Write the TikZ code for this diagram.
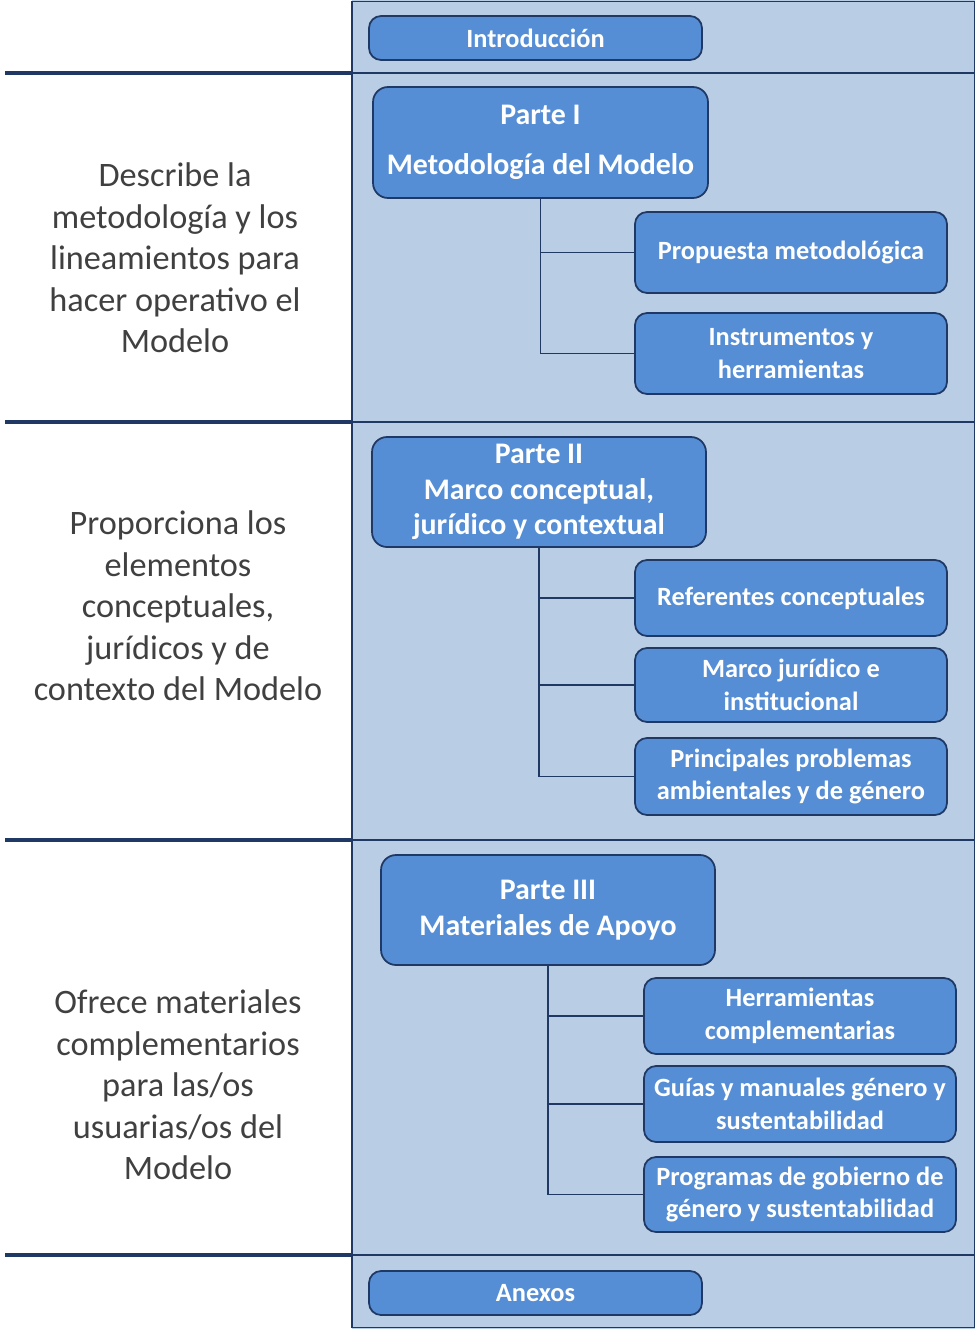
\documentclass[tikz,border=0pt]{standalone}
\usepackage{fontspec}
\setmainfont{Carlito}
\definecolor{panel}{HTML}{B9CDE5}
\definecolor{boxfill}{HTML}{558ED5}
\definecolor{navy}{HTML}{1F3864}
\definecolor{textgray}{HTML}{404040}

\begin{document}
\begin{tikzpicture}[x=0.02cm,y=-0.02cm,
    box/.style={draw=navy,fill=boxfill,line width=1pt,rounded corners=0.24cm,
      text=white,font=\bfseries\fontsize{15}{18.5}\selectfont,align=center,
      inner sep=0pt,minimum width=6.24cm},
    parte/.style={box,font=\bfseries\fontsize{17}{20.2}\selectfont,
      minimum width=6.68cm,minimum height=2.2cm,rounded corners=0.3cm},
    desc/.style={text=textgray,font=\fontsize{19.5}{23.6}\selectfont,align=center},
    link/.style={draw=navy,line width=0.8pt}]
      \useasboundingbox (0,0) rectangle (975,1329);
      % panel on the right
      \fill[panel] (352,0) rectangle (975,1329);
      \draw[navy,line width=0.8pt] (352,1.5) rectangle (974.5,1327.5);
      \foreach \y in {73,422,840,1255} {
        \draw[navy,line width=1.8pt] (5,\y) -- (352,\y);
        \draw[navy,line width=0.8pt] (352,\y) -- (975,\y);
      }
      % left column
      \node[desc] (d1) at (175,258) {Describe la\\metodología y los\\lineamientos para\\hacer operativo el\\Modelo};
      \node[desc] (d2) at (178,606) {Proporciona los\\elementos\\conceptuales,\\jurídicos y de\\contexto del Modelo};
      \node[desc] (d3) at (178,1085) {Ofrece materiales\\complementarios\\para las/os\\usuarias/os del\\Modelo};
      % boxes
      \node[box,minimum width=6.66cm,minimum height=0.88cm] (intro) at (535.5,38) {Introducción};
      \node[parte,minimum width=6.7cm,minimum height=2.22cm] (p1) at (540.5,142.5) {Parte I\\[8pt]Metodología del Modelo};
      \node[box,minimum height=1.62cm] (prop) at (791,252.5) {Propuesta metodológica};
      \node[box,minimum height=1.62cm] (instr) at (791,353.5) {Instrumentos y\\herramientas};
      \node[parte] (p2) at (539,492) {Parte II\\Marco conceptual,\\jurídico y contextual};
      \node[box,minimum height=1.52cm] (ref) at (791,598) {Referentes conceptuales};
      \node[box,minimum height=1.48cm] (marco) at (791,685) {Marco jurídico e\\institucional};
      \node[box,minimum height=1.54cm] (princ) at (791,776.5) {Principales problemas\\ambientales y de género};
      \node[parte] (p3) at (548,910) {Parte III\\Materiales de Apoyo};
      \node[box,minimum height=1.52cm] (herr) at (800,1016) {Herramientas\\complementarias};
      \node[box,minimum height=1.52cm] (guias) at (800,1104) {Guías y manuales género y\\sustentabilidad};
      \node[box,minimum height=1.5cm] (prog) at (800,1194.5) {Programas de gobierno de\\género y sustentabilidad};
      \node[box,minimum width=6.66cm,minimum height=0.88cm] (anex) at (535.5,1293) {Anexos};
      % tree lines
      \foreach \a/\b in {p1/prop,p1/instr,p2/ref,p2/marco,p2/princ,p3/herr,p3/guias,p3/prog} {
        \draw[link] (\a) |- (\b);
      }
    \end{tikzpicture}
\end{document}
